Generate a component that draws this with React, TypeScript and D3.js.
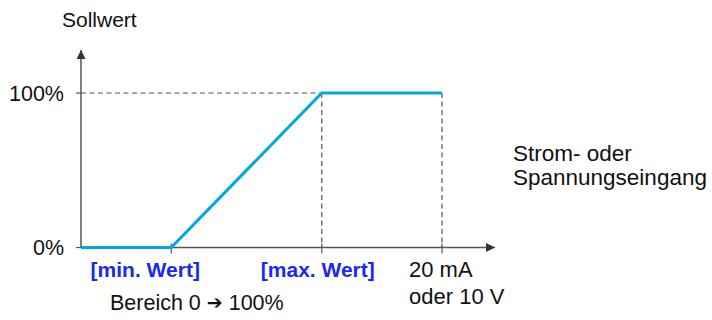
import React from "react";
import * as d3 from "d3";

const points: [number, number][] = [
  [0, 0],
  [25, 0],
  [66.7, 100],
  [100, 100],
];
const yTicks = [0, 100];
const yTickLabels = ["0%", "100%"];
const minX = 25;
const maxX = 66.7;
const endX = 100;

const W = 712;
const H = 320;
const FONT = "'Liberation Sans', Arial, sans-serif";

export default function App() {
  const x = d3.scaleLinear().domain([0, 100]).range([81, 442]);
  const y = d3.scaleLinear().domain([0, 100]).range([247.5, 93]);
  const axisColor = "#555";
  const line = d3
    .line<[number, number]>()
    .x((d) => x(d[0]))
    .y((d) => y(d[1]));
  const x0 = x(0);
  const y0 = y(0);
  const xEnd = 495;
  const yTop = 50;

  return (
    <svg
      width={W}
      height={H}
      style={{ position: "absolute", left: 0, top: 0, background: "#fff" }}
      fontFamily={FONT}
    >
      <defs>
        <marker id="arr" viewBox="0 0 10 10" refX="10" refY="5" markerWidth="11" markerHeight="9" markerUnits="userSpaceOnUse" orient="auto">
          <path d="M0,0 L10,5 L0,10 z" fill="#333" />
        </marker>
      </defs>
      {/* dashed guides */}
      <line x1={x0} x2={x(maxX)} y1={y(100)} y2={y(100)} stroke={axisColor} strokeWidth={1.2} strokeDasharray="5,3.5" />
      <line x1={x(maxX)} x2={x(maxX)} y1={y(100)} y2={y0} stroke={axisColor} strokeWidth={1.2} strokeDasharray="5,3.5" />
      <line x1={x(endX)} x2={x(endX)} y1={y(100)} y2={y0} stroke={axisColor} strokeWidth={1.2} strokeDasharray="5,3.5" />
      {/* axes */}
      <line x1={x0} x2={xEnd} y1={y0} y2={y0} stroke={axisColor} strokeWidth={1.5} markerEnd="url(#arr)" />
      <line x1={x0} x2={x0} y1={y0} y2={yTop} stroke={axisColor} strokeWidth={1.5} markerEnd="url(#arr)" />
      {/* y ticks */}
      {yTicks.map((t, i) => (
        <g key={t}>
          <line x1={x0 - 5} x2={x0} y1={y(t)} y2={y(t)} stroke={axisColor} strokeWidth={1.2} />
          <text x={x0 - 17} y={y(t)} dy="0.36em" textAnchor="end" fontSize={21.5} fill="#111">
            {yTickLabels[i]}
          </text>
        </g>
      ))}
      {/* x ticks */}
      {[minX, maxX, endX].map((t) => (
        <line key={t} x1={x(t)} x2={x(t)} y1={y0 - 4} y2={y0 + 6} stroke={axisColor} strokeWidth={1.2} />
      ))}
      {/* data line */}
      <path d={line(points) || ""} fill="none" stroke="#00a9e0" strokeWidth={3} />
      {/* labels */}
      <text x={62} y={27} fontSize={21} fill="#111">Sollwert</text>
      <text x={x(minX) - 26} y={277} textAnchor="middle" fontSize={21} fontWeight="bold" fill="#1a28f5">[min. Wert]</text>
      <text x={x(maxX) - 4} y={277} textAnchor="middle" fontSize={21} fontWeight="bold" fill="#1a28f5">[max. Wert]</text>
      <text x={x(endX) - 33} y={277} fontSize={22} fill="#111">20 mA</text>
      <text x={x(endX) - 33} y={304} fontSize={22} fill="#111">oder 10 V</text>
      <text x={110} y={310} fontSize={21.5} fill="#111">
        Bereich 0 <tspan fontFamily="'DejaVu Sans'" fontSize={19} dy={-1}>➔</tspan><tspan dy={1}> 100%</tspan>
      </text>
      <text x={513} y={161} fontSize={22.5} fill="#111">Strom- oder</text>
      <text x={513} y={185} fontSize={22.5} fill="#111">Spannungseingang</text>
    </svg>
  );
}
